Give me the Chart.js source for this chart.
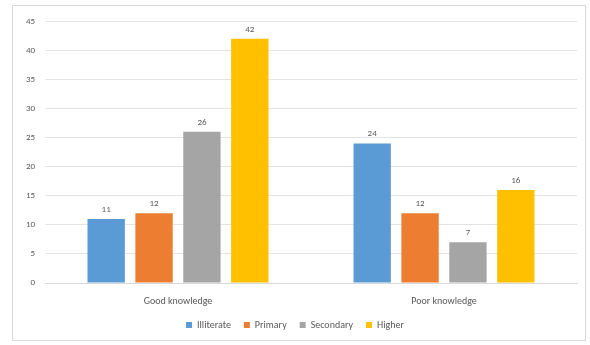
<!DOCTYPE html>
<html lang="en">
<head>
    <meta charset="UTF-8">
    <title>Knowledge by Education</title>
    <script src="https://cdn.jsdelivr.net/npm/chart.js"></script>
    <style>
        html, body {
            margin: 0;
            padding: 0;
            background: #ffffff;
        }
        .frame {
            position: absolute;
            left: 12px;
            top: 5px;
            width: 572px;
            height: 334px;
            border: 1px solid #d9d9d9;
        }
    </style>
</head>
<body>

    <div class="frame">
        <canvas id="edu-chart" width="572" height="334"></canvas>
    </div>

    <script>
        const categories = ["Good knowledge", "Poor knowledge"];
        const illiterate = [11, 24];
        const primary = [12, 12];
        const secondary = [26, 7];
        const higher = [42, 16];

        const textColor = "#595959";
        const fontFamily = "Carlito, 'Liberation Sans', Arial, sans-serif";

        // writes each bar's value just above it
        const valueLabels = {
            id: "valueLabels",
            afterDatasetsDraw(chart) {
                const ctx = chart.ctx;
                ctx.save();
                ctx.fillStyle = textColor;
                ctx.font = "9px " + fontFamily;
                ctx.textAlign = "center";
                ctx.textBaseline = "bottom";
                chart.data.datasets.forEach((ds, i) => {
                    chart.getDatasetMeta(i).data.forEach((bar, j) => {
                        ctx.fillText(ds.data[j], bar.x, bar.y - 5);
                    });
                });
                ctx.restore();
            }
        };

        const ctx = document.getElementById("edu-chart").getContext("2d");
        new Chart(ctx, {
            type: "bar",
            data: {
                labels: categories,
                datasets: [
                    { label: "Illiterate", data: illiterate, backgroundColor: "#5B9BD5" },
                    { label: "Primary", data: primary, backgroundColor: "#ED7D31" },
                    { label: "Secondary", data: secondary, backgroundColor: "#A5A5A5" },
                    { label: "Higher", data: higher, backgroundColor: "#FFC000" }
                ]
            },
            options: {
                responsive: false,
                animation: false,
                layout: { padding: { top: 14, right: 8, left: 0, bottom: 0 } },
                datasets: {
                    bar: { categoryPercentage: 0.72, barPercentage: 0.78 }
                },
                plugins: {
                    tooltip: { enabled: false },
                    legend: {
                        position: "bottom",
                        labels: {
                            boxWidth: 6,
                            boxHeight: 6,
                            padding: 13,
                            color: textColor,
                            font: { size: 10, family: fontFamily }
                        }
                    }
                },
                scales: {
                    x: {
                        grid: { display: false },
                        border: { color: "#d9d9d9" },
                        ticks: { color: textColor, font: { size: 10, family: fontFamily }, padding: 4 },
                        afterFit(scale) { scale.height = 24; }
                    },
                    y: {
                        min: 0,
                        max: 45,
                        ticks: { stepSize: 5, color: textColor, font: { size: 9, family: fontFamily }, padding: 10 },
                        grid: { color: "#e3e3e3", drawTicks: false },
                        border: { display: false },
                        afterFit(scale) { scale.width = 32; }
                    }
                }
            },
            plugins: [valueLabels]
        });
    </script>

</body>
</html>
